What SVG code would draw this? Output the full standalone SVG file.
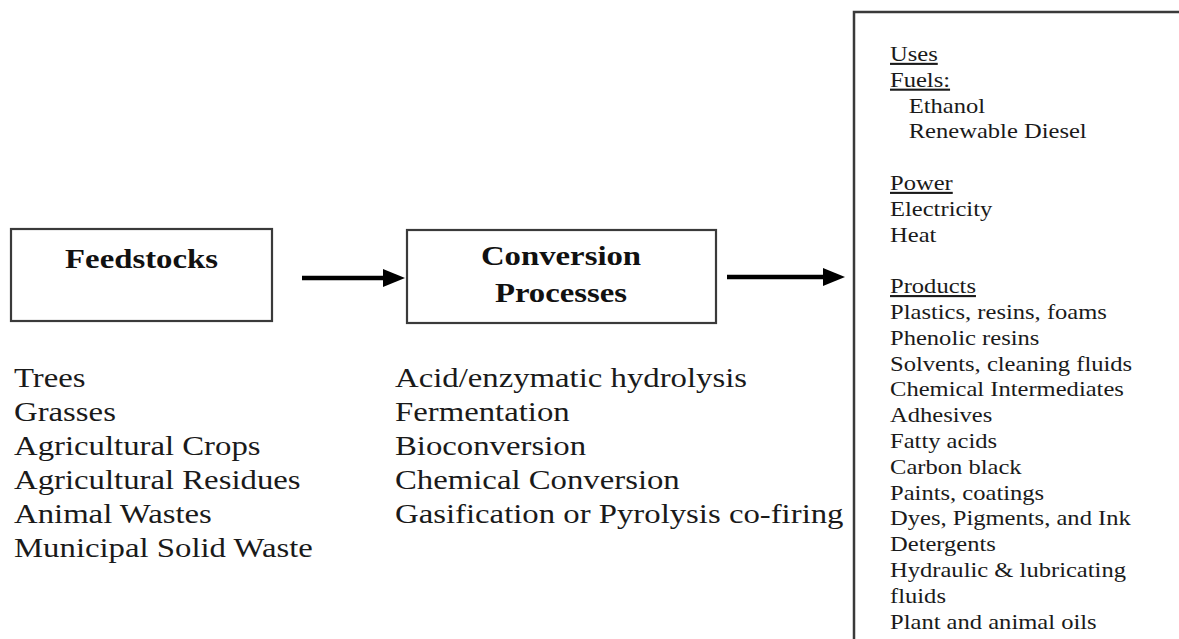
<svg xmlns="http://www.w3.org/2000/svg" width="1179" height="639" viewBox="0 0 1179 639">
  <style>
    .box { fill: #ffffff; stroke: #3a3a3a; stroke-width: 2.2; }
    .title { font-family: "Liberation Serif", "Times New Roman", serif; font-size: 28px; font-weight: bold; fill: #111; text-anchor: middle; }
    .big { font-family: "Liberation Serif", "Times New Roman", serif; font-size: 28px; fill: #1a1a1a; }
    .small { font-family: "Liberation Serif", "Times New Roman", serif; font-size: 21px; fill: #1a1a1a; }
    .ul { text-decoration: underline; }
    .conn { stroke: #000; stroke-width: 4.5; fill: none; }
  </style>
  <defs>
    <marker id="ah" markerUnits="userSpaceOnUse" markerWidth="22" markerHeight="18" refX="12" refY="9" orient="auto">
      <path d="M0,0 L22,9 L0,18 z" fill="#000"/>
    </marker>
  </defs>
  <rect width="1179" height="639" fill="#ffffff"/>

  <g id="feedstocks">
    <rect class="box" x="11" y="229" width="261" height="92"/>
    <text class="title" transform="translate(141.5,268) scale(1.17,1)">Feedstocks</text>
  </g>

  <g id="feedstock-list" transform="translate(14,0) scale(1.17,1)">
    <text class="big" x="0" y="387">Trees</text>
    <text class="big" x="0" y="421">Grasses</text>
    <text class="big" x="0" y="455">Agricultural Crops</text>
    <text class="big" x="0" y="489">Agricultural Residues</text>
    <text class="big" x="0" y="523">Animal Wastes</text>
    <text class="big" x="0" y="557">Municipal Solid Waste</text>
  </g>

  <g id="conversion">
    <rect class="box" x="407" y="230" width="309" height="93"/>
    <text class="title" transform="translate(561,265) scale(1.17,1)">Conversion</text>
    <text class="title" transform="translate(561,302) scale(1.17,1)">Processes</text>
  </g>

  <g id="conversion-list" transform="translate(395,0) scale(1.17,1)">
    <text class="big" x="0" y="387">Acid/enzymatic hydrolysis</text>
    <text class="big" x="0" y="421">Fermentation</text>
    <text class="big" x="0" y="455">Bioconversion</text>
    <text class="big" x="0" y="489">Chemical Conversion</text>
    <text class="big" x="0" y="523">Gasification or Pyrolysis co-firing</text>
  </g>

  <g id="uses">
    <path d="M1179,12 H854 V639" fill="none" stroke="#3a3a3a" stroke-width="2.5"/>
    <g transform="translate(890,0) scale(1.17,1)">
      <text class="small ul" x="0" y="61">Uses</text>
      <text class="small ul" x="0" y="86.8">Fuels:</text>
      <text class="small" x="16" y="112.6">Ethanol</text>
      <text class="small" x="16" y="138.4">Renewable Diesel</text>
      <text class="small ul" x="0" y="190">Power</text>
      <text class="small" x="0" y="215.8">Electricity</text>
      <text class="small" x="0" y="241.6">Heat</text>
      <text class="small ul" x="0" y="293.2">Products</text>
      <text class="small" x="0" y="319">Plastics, resins, foams</text>
      <text class="small" x="0" y="344.8">Phenolic resins</text>
      <text class="small" x="0" y="370.6">Solvents, cleaning fluids</text>
      <text class="small" x="0" y="396.4">Chemical Intermediates</text>
      <text class="small" x="0" y="422.2">Adhesives</text>
      <text class="small" x="0" y="448">Fatty acids</text>
      <text class="small" x="0" y="473.8">Carbon black</text>
      <text class="small" x="0" y="499.6">Paints, coatings</text>
      <text class="small" x="0" y="525.4">Dyes, Pigments, and Ink</text>
      <text class="small" x="0" y="551.2">Detergents</text>
      <text class="small" x="0" y="577">Hydraulic &amp; lubricating</text>
      <text class="small" x="0" y="602.8">fluids</text>
      <text class="small" x="0" y="628.6">Plant and animal oils</text>
    </g>
  </g>

  <g id="connectors">
    <line class="conn" x1="302" y1="278" x2="395" y2="278" marker-end="url(#ah)"/>
    <line class="conn" x1="727" y1="277" x2="835" y2="277" marker-end="url(#ah)"/>
  </g>
</svg>
